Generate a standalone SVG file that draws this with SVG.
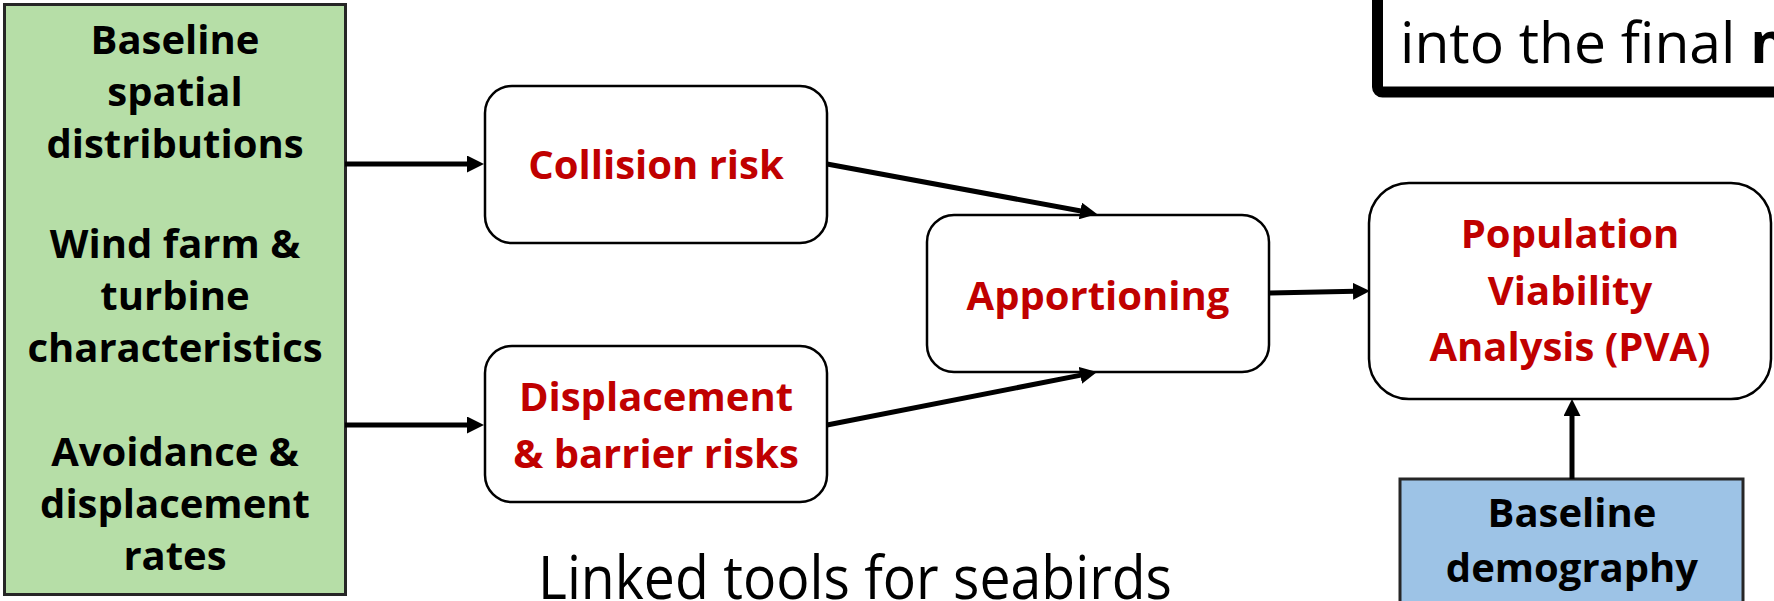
<svg xmlns="http://www.w3.org/2000/svg" width="1774" height="601" viewBox="0 0 1774 601">
<style>
.bg{fill:#ffffff}
.box{fill:#ffffff;stroke:#000000;stroke-width:2.5}
.green{fill:#B6DEA7;stroke:#262626;stroke-width:3}
.blue{fill:#9DC3E6;stroke:#262626;stroke-width:3}
.frame{fill:#ffffff;stroke:#000000;stroke-width:11}
.lbl{font-family:"Open Sans","Noto Sans",sans-serif;font-weight:700;font-size:40px;text-anchor:middle}
.red{fill:#C00000}
.blk{fill:#000000}
.conn{fill:none;stroke:#000000;stroke-width:5}
.big{font-family:"Open Sans","Noto Sans",sans-serif;font-weight:400;fill:#000000}
</style>
<defs>
<marker id="ah" viewBox="0 0 17 17" refX="2" refY="8.5" markerWidth="17" markerHeight="17" markerUnits="userSpaceOnUse" orient="auto">
<path d="M0,0 L17,8.5 L0,17 z" fill="#000000"/>
</marker>
</defs>
<rect class="bg" x="0" y="0" width="1774" height="601"/>

<g id="note">
<rect class="frame" x="1377.5" y="-60" width="500" height="152" rx="5"/>
<text class="big" x="1400" y="63" font-size="57">into the final <tspan font-weight="700">n</tspan></text>
</g>

<g id="inputs">
<rect class="green" x="4.5" y="4.5" width="341" height="590"/>
<text class="lbl blk" x="175" y="54">Baseline</text>
<text class="lbl blk" x="175" y="106">spatial</text>
<text class="lbl blk" x="175" y="158">distributions</text>
<text class="lbl blk" x="175" y="258">Wind farm &amp;</text>
<text class="lbl blk" x="175" y="310">turbine</text>
<text class="lbl blk" x="175" y="362">characteristics</text>
<text class="lbl blk" x="175" y="466">Avoidance &amp;</text>
<text class="lbl blk" x="175" y="518">displacement</text>
<text class="lbl blk" x="175" y="570">rates</text>
</g>

<g id="collision">
<rect class="box" x="485" y="86" width="342" height="157" rx="27"/>
<text class="lbl red" x="656" y="179">Collision risk</text>
</g>

<g id="displacement">
<rect class="box" x="485" y="346" width="342" height="156" rx="27"/>
<text class="lbl red" x="656" y="411">Displacement</text>
<text class="lbl red" x="656" y="468">&amp; barrier risks</text>
</g>

<g id="apportioning">
<rect class="box" x="927" y="215" width="342" height="157" rx="27"/>
<text class="lbl red" x="1098" y="310">Apportioning</text>
</g>

<g id="pva">
<rect class="box" x="1369" y="183" width="402" height="216" rx="40"/>
<text class="lbl red" x="1570" y="248">Population</text>
<text class="lbl red" x="1570" y="305">Viability</text>
<text class="lbl red" x="1570" y="361">Analysis (PVA)</text>
</g>

<g id="demography">
<rect class="blue" x="1400" y="479" width="343" height="140"/>
<text class="lbl blk" x="1572" y="527">Baseline</text>
<text class="lbl blk" x="1572" y="582">demography</text>
</g>

<g id="caption">
<text class="big" x="538" y="599" font-size="60" textLength="634" lengthAdjust="spacingAndGlyphs">Linked tools for seabirds</text>
</g>

<g id="connectors">
<path class="conn" d="M345,164 L469,164" marker-end="url(#ah)"/>
<path class="conn" d="M345,425 L469,425" marker-end="url(#ah)"/>
<path class="conn" d="M827,164 L1082.3,211.3" marker-end="url(#ah)"/>
<path class="conn" d="M827,425 L1082.3,374.9" marker-end="url(#ah)"/>
<path class="conn" d="M1269,293 L1355,291.3" marker-end="url(#ah)"/>
<path class="conn" d="M1572,479 L1572,414" marker-end="url(#ah)"/>
</g>
</svg>
